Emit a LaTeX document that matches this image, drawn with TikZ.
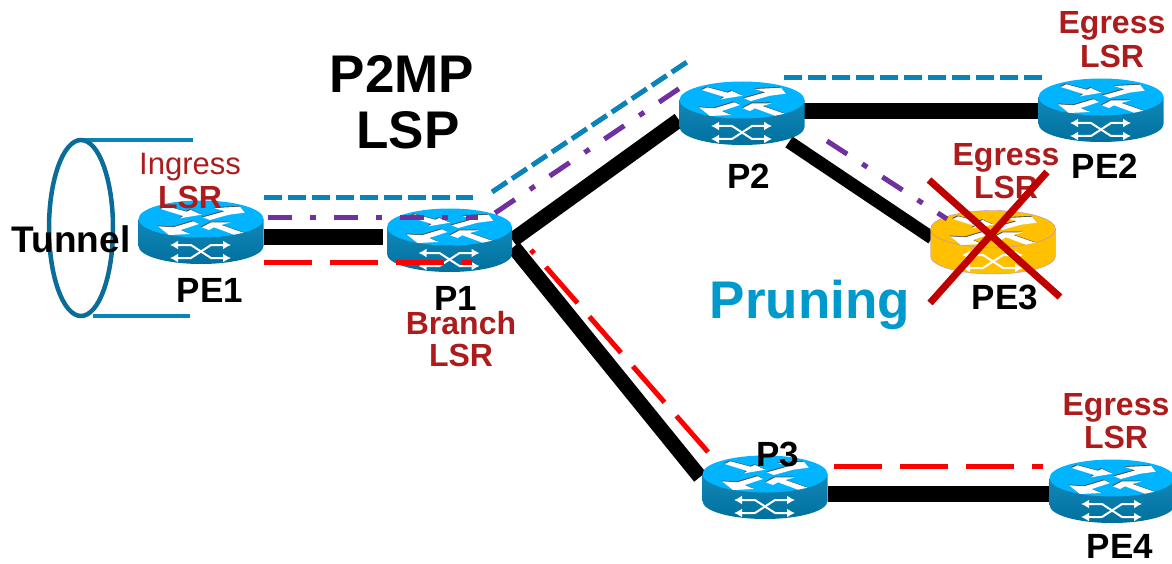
\documentclass[tikz,border=0pt]{standalone}
\usepackage{fontspec}
\setmainfont{Liberation Sans}
\usetikzlibrary{arrows.meta,backgrounds}
\definecolor{routertop}{HTML}{00B4FF}
\definecolor{routerhi}{HTML}{1288B8}
\definecolor{routerlo}{HTML}{00709E}
\definecolor{prunetop}{HTML}{FFC000}
\definecolor{pruneline}{HTML}{B98AC8}
\definecolor{tunnelblue}{HTML}{0A6C98}
\definecolor{lspblue}{HTML}{0A84B8}
\definecolor{lsppurple}{HTML}{7030A0}
\definecolor{lspred}{HTML}{FF0000}
\definecolor{lsrred}{HTML}{AC1C1C}
\definecolor{prunetext}{HTML}{0099CC}
\definecolor{crossred}{HTML}{C00000}
\tikzset{
  routerbox/.style={minimum width=126pt,minimum height=63pt,inner sep=0pt,outer sep=0pt},
  sidearrow/.style={white,line width=2pt,{Latex[length=8pt,width=9pt]}-{Latex[length=8pt,width=9pt]}},
  hoplink/.style={black,line width=16pt},
  slantlink/.style={black,line width=15pt},
  bluelsp/.style={lspblue,line width=5pt,dash pattern=on 18pt off 6pt},
  purplelsp/.style={lsppurple,line width=5pt,dash pattern=on 24pt off 18pt on 6pt off 18pt},
  redlsp/.style={lspred,line width=5pt,dash pattern=on 48pt off 18pt},
  tunnelline/.style={lspblue,line width=4.5pt},
  blacklabel/.style={font=\bfseries\fontsize{35}{35}\selectfont,inner sep=0pt},
  biglabel/.style={font=\bfseries\fontsize{53}{53}\selectfont,inner sep=0pt},
  lsrlabel/.style={text=lsrred,font=\bfseries\fontsize{32}{32}\selectfont,inner sep=0pt},
  crossline/.style={crossred,line width=7pt}
}
\newcommand{\toparrows}[1]
{ \fill[#1] (-40.3,-23) -- (-34.7,-25.7) -- (-14.3,-20.3) -- (-10.3,-22) -- (0.3,-17.3) -- (-21,-13.7) -- (-17.7,-16) -- cycle;
  \fill[#1] (-43,-5.7) -- (-27.7,-4.7) -- (-7.7,-10.7) -- (-2,-8) -- (-20.3,-2) -- (-11,2) -- (-32,3) -- cycle;
  \fill[#1] (2,-14.7) -- (23.7,-20.7) -- (13,-24) -- (39,-25.3) -- (43.7,-19.3) -- (28,-17.3) -- (8.7,-12) -- cycle;
  \fill[#1] (0.7,-4.7) -- (10.3,-9.7) -- (29.7,-9.7) -- (20.3,-7) -- (42.3,0.7) -- (33,2.7) -- (13,-4.7) -- (8,-2) -- cycle;
}
% name, position, top colour, side colour top, side colour bottom, outline
\newcommand{\router}[6]
{ \begin{scope}[shift={(#2)}]
   \path[top color=#4,bottom color=#5,draw=#6] (-62.5,-13) -- (-62.5,14)
     .. controls (-62.5,24) and (-34.5,32) .. (0,32)
     .. controls (34.5,32) and (62.5,24) .. (62.5,14) -- (62.5,-13) -- cycle;
   \path[fill=#3,draw=#6] (0,-13) ellipse [x radius=62.5,y radius=18.5];
   \begin{scope}[shift={(-0.8,-0.8)}]
     \toparrows{black!70}
   \end{scope}
   \toparrows{white}
   \draw[sidearrow] (-31,13) -- (-10,13) -- (10,26) -- (30,26);
   \draw[sidearrow] (-31,26) -- (-10,26) -- (10,13) -- (30,13);
   \node[routerbox] (#1) at (0,0) {};
  \end{scope}
}

\begin{document}
\begin{tikzpicture}[x=1pt,y=-1pt]
 \useasboundingbox (0,0) rectangle (1172,564);

 % tunnel
 \draw[tunnelline] (83,140) -- (193,140);
 \draw[tunnelline] (93,316) -- (190,316);
 \draw[tunnelblue,line width=4.5pt] (81,228) ellipse [x radius=32,y radius=88];

 % routers
 \router{pe1}{201,232}{routertop}{routerhi}{routerlo}{none}
 \router{p1}{449.5,240}{routertop}{routerhi}{routerlo}{none}
 \router{p2}{742,113}{routertop}{routerhi}{routerlo}{none}
 \router{pe2}{1101,110}{routertop}{routerhi}{routerlo}{none}
 \router{pe3}{993,242}{prunetop}{prunetop}{prunetop}{pruneline}
 \router{p3}{765,487}{routertop}{routerhi}{routerlo}{none}
 \router{pe4}{1112,491}{routertop}{routerhi}{routerlo}{none}

 % links
 \begin{scope}[on background layer]
   \draw[hoplink] ([shift={(0,5)}]pe1.east) -- ([shift={(-4,-3)}]p1.west);
   \draw[slantlink] (p1.east) -- ([shift={(0,7)}]p2.west);
   \draw[slantlink] ([shift={(1,7)}]p1.east) -- ([shift={(-2,-10)}]p3.west);
   \draw[hoplink] ([shift={(-3,-1.5)}]p2.east) -- ([shift={(0,1.5)}]pe2.west);
   \draw[slantlink,line width=13pt] ([shift={(-16,29)}]p2.east) -- ([shift={(2,-4)}]pe3.west);
   \draw[hoplink] ([shift={(0,6.5)}]p3.east) -- ([shift={(0,2.5)}]pe4.west);
 \end{scope}

 % LSP branches
 \coordinate (bluea) at (264,198);
 \coordinate (blueb) at (473,198);
 \coordinate (bluec) at (492,192);
 \coordinate (blued) at (687,62);
 \coordinate (bluee) at (784,77.5);
 \coordinate (bluef) at (1042,77.5);
 \draw[bluelsp] (bluea) -- (blueb);
 \draw[bluelsp] (bluec) -- (blued);
 \draw[bluelsp] (bluee) -- (bluef);

 \coordinate (purplea) at (268,217);
 \coordinate (purpleb) at (478,217);
 \coordinate (purplec) at (495,213);
 \coordinate (purpled) at (680,88);
 \coordinate (purplee) at (827,141);
 \coordinate (purplef) at (947,219);
 \draw[purplelsp] (purplea) -- (purpleb);
 \draw[purplelsp] (purplec) -- (purpled);
 \draw[purplelsp] (purplee) -- (purplef);

 \coordinate (reda) at (264,262);
 \coordinate (redb) at (472,262);
 \coordinate (redc) at (708,452);
 \coordinate (redd) at (531,250);
 \coordinate (rede) at (834,466);
 \coordinate (redf) at (1043,466);
 \draw[redlsp] (reda) -- (redb);
 \draw[redlsp] (redc) -- (redd);
 \draw[redlsp] (rede) -- (redf);

 % labels
 \node[biglabel] (p2mp) at (402,74) {P2MP};
 \node[biglabel] (lsp) at (408,130) {LSP};
 \node[biglabel,text=prunetext] (pruning) at (810,305) {Pruning};
 \node[blacklabel,font=\bfseries\fontsize{37}{37}\selectfont] (tunnel) at (71,239) {Tunnel};
 \node[blacklabel] (pe1label) at (210,290) {PE1};
 \node[blacklabel] (p1label) at (456,298) {P1};
 \node[blacklabel] (p2label) at (749,176) {P2};
 \node[blacklabel] (pe2label) at (1105,166) {PE2};
 \node[blacklabel] (pe3label) at (1005,297) {PE3};
 \node[blacklabel] (p3label) at (778,454) {P3};
 \node[blacklabel] (pe4label) at (1120,546) {PE4};

 \node[lsrlabel,font=\fontsize{31}{31}\selectfont] (ingress) at (190,167) {Ingress};
 \node[lsrlabel] (ingresslsr) at (190,197) {LSR};
 \node[lsrlabel] (branch) at (461,323) {Branch};
 \node[lsrlabel] (branchlsr) at (461,355) {LSR};
 \node[lsrlabel] (egressb) at (1112,26) {Egress};
 \node[lsrlabel] (egressblsr) at (1112,56) {LSR};
 \node[lsrlabel] (egressc) at (1006,158) {Egress};
 \node[lsrlabel] (egressclsr) at (1006,187) {LSR};
 \node[lsrlabel] (egressd) at (1116,408) {Egress};
 \node[lsrlabel] (egressdlsr) at (1116,437) {LSR};

 % pruned leaf
 \coordinate (crossa) at (929,180);
 \coordinate (crossb) at (1060,297);
 \coordinate (crossc) at (1047,172);
 \coordinate (crossd) at (930,303);
 \draw[crossline] (crossa) -- (crossb);
 \draw[crossline] (crossc) -- (crossd);

\end{tikzpicture}
\end{document}
